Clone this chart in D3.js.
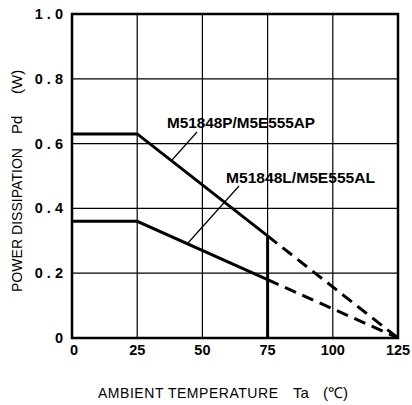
<!DOCTYPE html>
<html>
<head>
<meta charset="utf-8">
<script src="https://cdn.jsdelivr.net/npm/d3@7"></script>
<style>
  body { margin: 0; background: #fff; }
  svg { display: block; font-family: "Liberation Sans", Arial, sans-serif; }
</style>
</head>
<body>
<div class="chart"></div>
<script>
// data
var xTicks = [0, 25, 50, 75, 100, 125];
var yTicks = [0, 0.2, 0.4, 0.6, 0.8, 1.0];
var yTickLabels = ['0', '0 . 2', '0 . 4', '0 . 6', '0 . 8', '1 . 0'];
var seriesNames = ['M51848P/M5E555AP', 'M51848L/M5E555AL'];
var solidP = [[0, 0.63], [25, 0.63], [75, 0.315]];
var dashP = [[75, 0.315], [125, 0]];
var solidL = [[0, 0.36], [25, 0.36], [75, 0.18]];
var dashL = [[75, 0.18], [125, 0]];
var limitX = 75, limitY = 0.315;

(function() {
	var width = 412, height = 405;
	var pLeft = 72, pRight = 398, pTop = 14, pBottom = 338;

	var svg = d3.select('.chart').append('svg')
		.attr('width', width)
		.attr('height', height);

	var x = d3.scaleLinear().domain([0, 125]).range([pLeft, pRight]);
	var y = d3.scaleLinear().domain([0, 1]).range([pBottom, pTop]);

	// grid
	svg.append('g').selectAll('line')
		.data(xTicks.slice(1, -1))
		.enter().append('line')
		.attr('x1', d => x(d)).attr('x2', d => x(d))
		.attr('y1', pTop).attr('y2', pBottom)
		.attr('stroke', '#000').attr('stroke-width', 1.2);

	svg.append('g').selectAll('line')
		.data(yTicks.slice(1, -1))
		.enter().append('line')
		.attr('x1', pLeft).attr('x2', pRight)
		.attr('y1', d => y(d)).attr('y2', d => y(d))
		.attr('stroke', '#000').attr('stroke-width', 1.2);

	// frame
	svg.append('rect')
		.attr('x', pLeft).attr('y', pTop)
		.attr('width', pRight - pLeft).attr('height', pBottom - pTop)
		.attr('fill', 'none').attr('stroke', '#000').attr('stroke-width', 2.5);

	// limit at 75 degrees
	svg.append('line')
		.attr('x1', x(limitX)).attr('x2', x(limitX))
		.attr('y1', y(0)).attr('y2', y(limitY))
		.attr('stroke', '#000').attr('stroke-width', 3);

	var line = d3.line().x(d => x(d[0])).y(d => y(d[1]));

	[solidP, solidL].forEach(function(s) {
		svg.append('path').attr('d', line(s))
			.attr('fill', 'none').attr('stroke', '#000').attr('stroke-width', 3);
	});
	[dashP, dashL].forEach(function(s) {
		svg.append('path').attr('d', line(s))
			.attr('fill', 'none').attr('stroke', '#000').attr('stroke-width', 3)
			.attr('stroke-dasharray', '12,7');
	});

	// tick labels
	svg.append('g').selectAll('text')
		.data(xTicks)
		.enter().append('text')
		.attr('x', d => x(d) + (d === 0 ? 2 : 0)).attr('y', pBottom + 17)
		.attr('text-anchor', 'middle')
		.attr('font-size', 14.5).attr('font-weight', 'bold')
		.text(d => d);

	svg.append('g').selectAll('text')
		.data(yTicks)
		.enter().append('text')
		.attr('x', pLeft - 9).attr('y', d => y(d) + 5)
		.attr('text-anchor', 'end')
		.attr('font-size', 14.5).attr('font-weight', 'bold')
		.text((d, i) => yTickLabels[i]);

	// axis titles
	var xt = svg.append('g').attr('font-size', 14);
	xt.append('text').attr('x', 98).attr('y', 398)
		.attr('textLength', 180).attr('lengthAdjust', 'spacing')
		.text('AMBIENT TEMPERATURE');
	xt.append('text').attr('x', 293).attr('y', 398).attr('font-size', 15).text('Ta');
	xt.append('text').attr('x', 323).attr('y', 398).attr('font-size', 15).text('(\u2103)');

	var yt = svg.append('g').attr('font-size', 14)
		.attr('transform', 'translate(22,0) rotate(-90)');
	yt.append('text').attr('x', -292).attr('y', 0)
		.attr('textLength', 144).attr('lengthAdjust', 'spacing')
		.text('POWER DISSIPATION');
	yt.append('text').attr('x', -134).attr('y', 0).attr('font-size', 15).text('Pd');
	yt.append('text').attr('x', -94).attr('y', 0).attr('font-size', 15).text('(W)');

	// series labels with leaders
	svg.append('text')
		.attr('x', 167).attr('y', 128)
		.attr('font-size', 15).attr('font-weight', 'bold')
		.attr('textLength', 148).attr('lengthAdjust', 'spacingAndGlyphs')
		.text(seriesNames[0]);
	svg.append('text')
		.attr('x', 226).attr('y', 183)
		.attr('font-size', 15).attr('font-weight', 'bold')
		.attr('textLength', 149).attr('lengthAdjust', 'spacingAndGlyphs')
		.text(seriesNames[1]);

	svg.append('line')
		.attr('x1', 197).attr('y1', 132).attr('x2', 172).attr('y2', 160)
		.attr('stroke', '#000').attr('stroke-width', 1.2);
	svg.append('line')
		.attr('x1', 239).attr('y1', 186).attr('x2', 188).attr('y2', 243)
		.attr('stroke', '#000').attr('stroke-width', 1.2);
})();
</script>
</body>
</html>
